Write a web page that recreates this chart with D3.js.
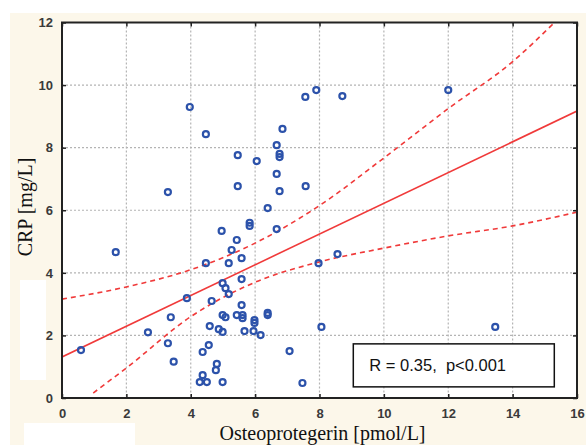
<!DOCTYPE html>
<html>
<head>
<meta charset="utf-8">
<script src="https://cdn.jsdelivr.net/npm/d3@7"></script>
<style>
  body { margin: 0; background: #fff; }
  svg { display: block; }
</style>
</head>
<body>
<svg width="586" height="445"></svg>
<script>
// values
var osteoX = [0.59, 1.67, 2.67, 3.29, 3.38, 3.47, 3.29, 3.88, 3.97, 4.47,
    4.28, 4.37, 4.50, 4.37, 4.56, 4.78, 4.81, 4.99, 4.59, 4.87,
    4.99, 4.99, 5.08, 4.65, 4.99, 5.08, 5.18, 4.47, 5.18, 5.27,
    5.43, 4.96, 5.58, 5.58, 5.58, 5.43, 5.61, 5.61, 5.98, 5.98,
    6.39, 6.39, 5.67, 5.95, 6.17, 7.07, 7.47, 8.06, 13.46, 5.83,
    5.83, 6.67, 6.39, 5.46, 6.76, 7.57, 6.67, 5.46, 6.05, 6.76,
    6.76, 6.67, 6.85, 7.56, 7.90, 8.71, 12.0, 7.97, 8.56];
var crpY = [1.53, 4.66, 2.10, 1.75, 2.58, 1.16, 6.58, 3.19, 9.30, 8.43,
    0.51, 0.73, 0.51, 1.47, 1.69, 0.89, 1.09, 0.51, 2.30, 2.20,
    2.11, 2.65, 2.58, 3.10, 3.67, 3.51, 3.32, 4.31, 4.31, 4.73,
    5.05, 5.34, 4.47, 3.80, 2.97, 2.65, 2.65, 2.55, 2.49, 2.40,
    2.72, 2.65, 2.14, 2.14, 2.01, 1.50, 0.48, 2.27, 2.27, 5.60,
    5.50, 5.40, 6.07, 6.77, 6.61, 6.77, 7.16, 7.76, 7.57, 7.80,
    7.70, 8.08, 8.60, 9.62, 9.84, 9.65, 9.84, 4.31, 4.60];

// fitted line and confidence band
var fitX = [0, 16];
var fitY = [1.31, 9.17];
var upperX = [0, 2, 4, 6, 8, 10, 12, 14, 15.3];
var upperY = [3.16, 3.55, 4.1, 4.95, 6.15, 7.67, 9.25, 10.75, 12];
var lowerX = [0.97, 2, 4, 6, 8, 10, 12, 14, 16];
var lowerY = [0.16, 0.96, 2.6, 3.7, 4.35, 4.79, 5.18, 5.5, 5.94];

var xTicks = [0, 2, 4, 6, 8, 10, 12, 14, 16];
var yTicks = [0, 2, 4, 6, 8, 10, 12];
var statText = "R = 0.35,  p<0.001";

var svg = d3.select("svg");
var margin = { top: 22.5, right: 9, bottom: 47, left: 62 },
    width = +svg.attr("width") - margin.left - margin.right,
    height = +svg.attr("height") - margin.top - margin.bottom;

// cream page background with the white patches of the scan
svg.append("rect").attr("x", 10).attr("y", 13).attr("width", 576).attr("height", 432)
    .attr("fill", "#fcf7ea");
svg.append("rect").attr("x", 20).attr("y", 280).attr("width", 26).attr("height", 100)
    .attr("fill", "#fff");
svg.append("rect").attr("x", 24).attr("y", 423).attr("width", 111).attr("height", 22)
    .attr("fill", "#fff");

var x = d3.scaleLinear().domain([0, 16]).range([0, width]);
var y = d3.scaleLinear().domain([0, 12]).range([height, 0]);

var g = svg.append("g")
    .attr("transform", "translate(" + margin.left + "," + margin.top + ")");

g.append("rect").attr("width", width).attr("height", height).attr("fill", "#fff");

// grid
g.append("g").attr("class", "grid")
    .selectAll("line.vx").data(xTicks.slice(1, -1)).enter().append("line")
    .attr("x1", x).attr("x2", x).attr("y1", 0).attr("y2", height);
g.select(".grid")
    .selectAll("line.hy").data(yTicks.slice(1, -1)).enter().append("line")
    .attr("x1", 0).attr("x2", width).attr("y1", y).attr("y2", y);
g.selectAll(".grid line")
    .attr("stroke", "#b4b4b4").attr("stroke-width", 1.2).attr("stroke-dasharray", "2,2");

g.append("clipPath").attr("id", "plotclip")
    .append("rect").attr("width", width).attr("height", height);

var line = d3.line()
    .x(function (d) { return x(d[0]); })
    .y(function (d) { return y(d[1]); })
    .curve(d3.curveMonotoneX);

var lines = g.append("g").attr("clip-path", "url(#plotclip)");
lines.append("path").datum(d3.zip(fitX, fitY)).attr("d", line)
    .attr("fill", "none").attr("stroke", "#f03a3a").attr("stroke-width", 1.6);
lines.append("path").datum(d3.zip(upperX, upperY)).attr("d", line)
    .attr("fill", "none").attr("stroke", "#f03a3a").attr("stroke-width", 1.6)
    .attr("stroke-dasharray", "5,4");
lines.append("path").datum(d3.zip(lowerX, lowerY)).attr("d", line)
    .attr("fill", "none").attr("stroke", "#f03a3a").attr("stroke-width", 1.6)
    .attr("stroke-dasharray", "5,4");

// points
g.append("g").selectAll("circle").data(d3.zip(osteoX, crpY)).enter().append("circle")
    .attr("cx", function (d) { return x(d[0]); })
    .attr("cy", function (d) { return y(d[1]); })
    .attr("r", 3)
    .attr("fill", "none").attr("stroke", "#2c52aa").attr("stroke-width", 2.2);

// frame
g.append("rect").attr("width", width).attr("height", height)
    .attr("fill", "none").attr("stroke", "#222").attr("stroke-width", 2);

// axes with inside ticks
function styleAxis(sel) {
    sel.select(".domain").remove();
    sel.selectAll(".tick line").attr("stroke", "#222").attr("stroke-width", 1.5);
    sel.selectAll(".tick text").attr("fill", "#3a3a3a")
        .style("font", "bold 13px 'Liberation Sans', Arial, sans-serif");
}

g.append("g").attr("transform", "translate(0," + height + ")")
    .call(d3.axisBottom(x).tickValues(xTicks).tickSize(-4).tickPadding(11))
    .call(styleAxis);
g.append("g")
    .call(d3.axisLeft(y).tickValues(yTicks).tickSize(-4).tickPadding(9))
    .call(styleAxis);
g.append("g")
    .call(d3.axisTop(x).tickValues(xTicks).tickSize(-4).tickFormat(""))
    .call(styleAxis);
g.append("g").attr("transform", "translate(" + width + ",0)")
    .call(d3.axisRight(y).tickValues(yTicks).tickSize(-4).tickFormat(""))
    .call(styleAxis);

// stat box
var box = g.append("g").attr("transform", "translate(" + (x(9.05)) + "," + (y(1.73)) + ")");
box.append("rect").attr("width", 201).attr("height", 43)
    .attr("fill", "#fff").attr("stroke", "#111").attr("stroke-width", 1.5);
box.append("text").attr("x", 16).attr("y", 27)
    .style("font", "16.5px 'Liberation Sans', Arial, sans-serif").attr("fill", "#111")
    .attr("xml:space", "preserve").style("white-space", "pre")
    .text(statText);

// axis titles
svg.append("text")
    .attr("x", margin.left + width / 2 + 3).attr("y", 440)
    .attr("text-anchor", "middle")
    .style("font", "20px 'Liberation Serif', 'Times New Roman', serif").attr("fill", "#111")
    .text("Osteoprotegerin [pmol/L]");
svg.append("text")
    .attr("transform", "translate(32,207) rotate(-90)")
    .attr("text-anchor", "middle")
    .style("font", "20px 'Liberation Serif', 'Times New Roman', serif").attr("fill", "#111")
    .text("CRP [mg/L]");
</script>
</body>
</html>
